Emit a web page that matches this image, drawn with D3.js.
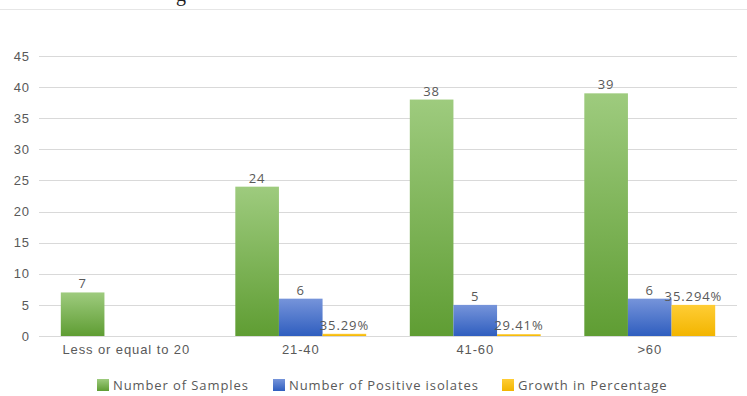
<!DOCTYPE html>
<meta charset="utf-8">
<style>
body { margin: 0; background: #fff; }
svg { font-family: "Open Sans", sans-serif; }
.axis text { fill: #595959; font-size: 13px; letter-spacing: 0.9px; }
.grid line { stroke: #d9d9d9; }
.lbl { fill: #595959; font-size: 13px; text-anchor: middle; letter-spacing: 0.9px; }
</style>
<body>
<div id="chart"></div>
<script src="https://cdn.jsdelivr.net/npm/d3@7"></script>
<script>
var categories = ["Less or equal to 20", "21-40", "41-60", ">60"];
var seriesNames = ["Number of Samples", "Number of Positive isolates", "Growth in Percentage"];
var samples = [7, 24, 38, 39];
var positives = [null, 6, 5, 6];
var growth = [null, 0.3529, 0.2941, 5];
var growthLabels = ["", "35.29%", "29.41%", "35.294%"];
var yTicks = [0, 5, 10, 15, 20, 25, 30, 35, 40, 45];

var W = 747, H = 396;
var margin = { top: 56, left: 39, right: 10, bottom: 60 };
var plotW = 737 - margin.left, plotH = 336 - margin.top;

var svg = d3.select("#chart").append("svg").attr("width", W).attr("height", H);

// caption fragment cut by the top edge, and the frame line
svg.append("text").attr("x", 176).attr("y", 1).attr("font-family", "Liberation Serif").attr("font-size", 20).attr("fill", "#222").text("g");
svg.append("line").attr("x1", 0).attr("x2", W).attr("y1", 9.5).attr("y2", 9.5).attr("stroke", "#e6e6e6");

var colors = [
  ["#9ecb7e", "#5f9d33"],
  ["#7694da", "#2f5ebf"],
  ["#ffcd35", "#f2b500"]
];
var defs = svg.append("defs");
colors.forEach(function(c, i) {
  var g = defs.append("linearGradient").attr("id", "grad" + i)
    .attr("x1", 0).attr("y1", 0).attr("x2", 0).attr("y2", 1);
  g.append("stop").attr("offset", "0%").attr("stop-color", c[0]);
  g.append("stop").attr("offset", "100%").attr("stop-color", c[1]);
});

var g = svg.append("g").attr("transform", "translate(" + margin.left + "," + margin.top + ")");

var x0 = d3.scaleBand().domain(categories).range([0, plotW]).paddingInner(0.25).paddingOuter(0.125);
var x1 = d3.scaleBand().domain([0, 1, 2]).range([0, x0.bandwidth()]);
var y = d3.scaleLinear().domain([0, 45]).range([plotH, 0]);

g.append("g").attr("class", "grid")
  .selectAll("line").data(yTicks).enter().append("line")
  .attr("x1", 0).attr("x2", plotW)
  .attr("y1", function(d) { return Math.round(y(d)) + 0.5; })
  .attr("y2", function(d) { return Math.round(y(d)) + 0.5; });

var yAxis = g.append("g").attr("class", "axis")
  .call(d3.axisLeft(y).tickValues(yTicks).tickSize(0).tickPadding(9));
yAxis.select(".domain").remove();

var xAxis = g.append("g").attr("class", "axis").attr("transform", "translate(0," + plotH + ")")
  .call(d3.axisBottom(x0).tickSize(0).tickPadding(9));
xAxis.select(".domain").remove();

var series = [samples, positives, growth];
var rows = [];
categories.forEach(function(c, ci) {
  series.forEach(function(s, si) {
    if (s[ci] == null) return;
    var label = si === 2 ? growthLabels[ci] : String(s[ci]);
    rows.push({ cat: c, s: si, v: s[ci], label: label });
  });
});

var bar = g.selectAll(".bar").data(rows).enter().append("g")
  .attr("transform", function(d) { return "translate(" + (x0(d.cat) + x1(d.s)) + ",0)"; });

bar.append("rect")
  .attr("y", function(d) { return y(d.v); })
  .attr("width", x1.bandwidth())
  .attr("height", function(d) { return y(0) - y(d.v); })
  .attr("fill", function(d) { return "url(#grad" + d.s + ")"; });

bar.append("text").attr("class", "lbl")
  .attr("x", x1.bandwidth() / 2)
  .attr("y", function(d) { return y(d.v) - 4; })
  .text(function(d) { return d.label; });

// legend
var legX = [97, 273, 502];
var leg = svg.append("g").selectAll("g").data(seriesNames).enter().append("g")
  .attr("transform", function(d, i) { return "translate(" + legX[i] + ",379)"; });
leg.append("rect").attr("width", 12).attr("height", 12)
  .attr("fill", function(d, i) { return "url(#grad" + i + ")"; });
leg.append("text").attr("x", 16).attr("y", 11).attr("fill", "#595959").attr("font-size", 13)
  .attr("letter-spacing", 0.9)
  .text(function(d) { return d; });
</script>
</body>
